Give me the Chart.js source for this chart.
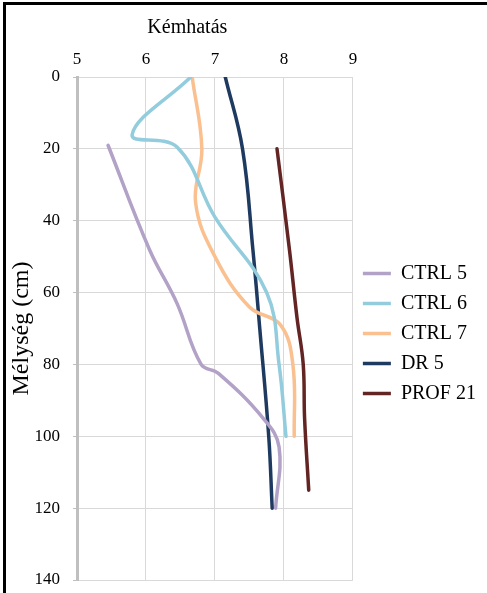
<!DOCTYPE html>
<html>
<head>
<meta charset="utf-8">
<script src="https://cdn.jsdelivr.net/npm/chart.js@4.4.1/dist/chart.umd.min.js"></script>
<style>
  body { margin: 0; background: #fff; }
  #wrap { position: relative; width: 487px; height: 593px; overflow: hidden; }
  #wrap canvas { position: absolute; left: 0; top: 0; }
  #frame { position: absolute; left: 3px; top: 2px; right: -5px; bottom: -5px;
           border-top: 3px solid #000; border-left: 3px solid #000; pointer-events: none; }
</style>
</head>
<body>
<div id="wrap">
  <canvas id="profil" width="487" height="593"></canvas>
  <div id="frame"></div>
</div>
<script>
// pH (Kémhatás) against depth (cm) for each soil profile
var ctrl5Depth = [19, 48, 63, 80, 82.5, 95, 103, 120];
var ctrl5Ph    = [5.45, 6.05, 6.45, 6.8, 7.05, 7.7, 7.93, 7.88];

var ctrl6Depth = [0, 16, 19.5, 39, 60, 80, 100];
var ctrl6Ph    = [6.65, 5.8, 6.45, 7.0, 7.75, 7.93, 8.03];

var ctrl7Depth = [0, 20, 35, 50, 64, 69, 80, 100];
var ctrl7Ph    = [6.67, 6.81, 6.72, 7.0, 7.5, 7.95, 8.13, 8.15];

var dr5Depth = [0, 20, 48, 70, 100, 120];
var dr5Ph    = [7.15, 7.4, 7.55, 7.65, 7.78, 7.83];

var prof21Depth = [20, 48, 67, 80, 95, 115];
var prof21Ph    = [7.9, 8.08, 8.19, 8.28, 8.3, 8.36];

var seriesNames = ["CTRL 5", "CTRL 6", "CTRL 7", "DR 5", "PROF 21"];
var seriesColors = ["#b3a2c7", "#93cddd", "#fac090", "#1f3a60", "#632523"];

var phTicks = [5, 6, 7, 8, 9];
var depthTicks = [0, 20, 40, 60, 80, 100, 120, 140];

function points(ph, depth) {
  var out = [];
  for (var i = 0; i < ph.length; i++) {
    out.push({ x: ph[i], y: depth[i] });
  }
  return out;
}

var allSeries = [
  points(ctrl5Ph, ctrl5Depth),
  points(ctrl6Ph, ctrl6Depth),
  points(ctrl7Ph, ctrl7Depth),
  points(dr5Ph, dr5Depth),
  points(prof21Ph, prof21Depth)
];

var datasets = allSeries.map(function (pts, i) {
  return {
    label: seriesNames[i],
    data: pts,
    borderColor: seriesColors[i],
    backgroundColor: seriesColors[i],
    borderWidth: 3.5,
    borderCapStyle: "round",
    borderJoinStyle: "round",
    pointRadius: 0,
    tension: 0.4,
    fill: false
  };
});

// axis caption above the pH ticks, plus a little room so the legend text isn't cut
var phCaption = {
  id: "phCaption",
  afterLayout: function (chart) {
    chart.legend.right += 10;
    chart.legend.width += 10;
  },
  afterDraw: function (chart) {
    var ctx = chart.ctx;
    ctx.save();
    ctx.font = "20px 'Liberation Serif'";
    ctx.fillStyle = "#000";
    ctx.textAlign = "center";
    ctx.textBaseline = "middle";
    ctx.fillText("Kémhatás", chart.scales.x.getPixelForValue(6.6), 28);
    ctx.restore();
  }
};

Chart.defaults.font.family = "'Liberation Serif', 'Times New Roman', serif";
Chart.defaults.color = "#000";

var ctx = document.getElementById("profil").getContext("2d");
var myChart = new Chart(ctx, {
  type: "line",
  data: { datasets: datasets },
  plugins: [phCaption],
  options: {
    responsive: false,
    animation: false,
    layout: { autoPadding: false, padding: { left: 0, top: 0, right: 16.5, bottom: 13 } },
    plugins: {
      tooltip: { enabled: false },
      legend: {
        position: "right",
        fullSize: false,
        // empty title only nudges the entries down a little
        title: { display: true, text: "", font: { size: 10, lineHeight: 1 }, padding: 0 },
        labels: {
          font: { size: 20 },
          color: "#000",
          usePointStyle: true,
          pointStyle: "line",
          pointStyleWidth: 28,
          padding: 10
        }
      }
    },
    scales: {
      x: {
        type: "linear",
        position: "top",
        min: phTicks[0],
        max: phTicks[phTicks.length - 1],
        afterBuildTicks: function (scale) {
          scale.ticks = phTicks.map(function (v) { return { value: v }; });
        },
        afterFit: function (scale) {
          scale.height = 77;
          scale.paddingLeft = 0;
          scale.paddingRight = 0;
        },
        ticks: { font: { size: 17 }, padding: 7, color: "#000" },
        grid: { color: "#d9d9d9", lineWidth: 1, drawTicks: false },
        border: { display: true, color: "#d9d9d9", width: 1 }
      },
      y: {
        type: "linear",
        reverse: true,
        min: depthTicks[0],
        max: depthTicks[depthTicks.length - 1],
        afterBuildTicks: function (scale) {
          scale.ticks = depthTicks.map(function (v) { return { value: v }; });
        },
        afterFit: function (scale) {
          scale.width = 77;
          scale.paddingTop = 0;
          scale.paddingBottom = 0;
        },
        ticks: { font: { size: 17 }, padding: 13, color: "#000" },
        grid: { color: "#d9d9d9", lineWidth: 1, tickLength: 4, tickColor: "#bfbfbf" },
        border: { display: true, color: "#bfbfbf", width: 3 },
        title: {
          display: true,
          text: "Mélység (cm)",
          font: { size: 24 },
          color: "#000",
          padding: { top: 7, bottom: 0 }
        }
      }
    }
  }
});
</script>
</body>
</html>
